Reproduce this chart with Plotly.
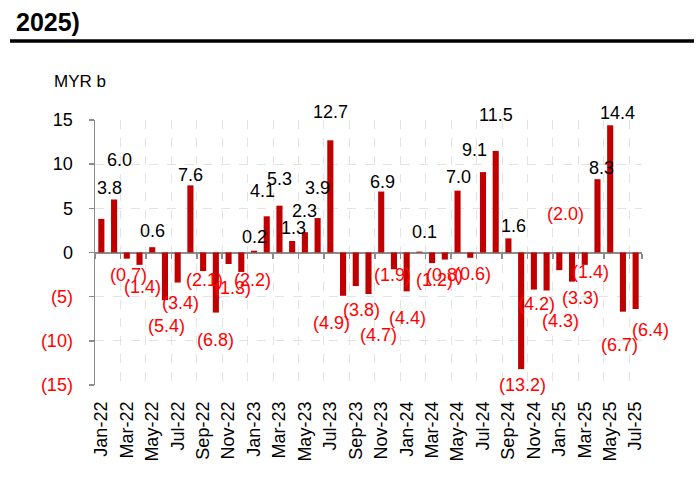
import plotly.graph_objects as go

# ---- data ----
months = [
    "Jan-22", "Feb-22", "Mar-22", "Apr-22", "May-22", "Jun-22", "Jul-22", "Aug-22",
    "Sep-22", "Oct-22", "Nov-22", "Dec-22",
    "Jan-23", "Feb-23", "Mar-23", "Apr-23", "May-23", "Jun-23", "Jul-23", "Aug-23",
    "Sep-23", "Oct-23", "Nov-23", "Dec-23",
    "Jan-24", "Feb-24", "Mar-24", "Apr-24", "May-24", "Jun-24", "Jul-24", "Aug-24",
    "Sep-24", "Oct-24", "Nov-24", "Dec-24",
    "Jan-25", "Feb-25", "Mar-25", "Apr-25", "May-25", "Jun-25", "Jul-25",
]
values = [
    3.8, 6.0, -0.7, -1.4, 0.6, -5.4, -3.4, 7.6, -2.1, -6.8, -1.3, -2.2,
    0.2, 4.1, 5.3, 1.3, 2.3, 3.9, 12.7, -4.9, -3.8, -4.7, 6.9, -1.9,
    -4.4, 0.1, -1.2, -0.8, 7.0, -0.6, 9.1, 11.5, 1.6, -13.2, -4.2, -4.3,
    -2.0, -3.3, -1.4, 8.3, 14.4, -6.7, -6.4,
]
y_ticks = [-15, -10, -5, 0, 5, 10, 15]
x_tick_labels = months[::2]

# ---- label placement styles (pixel offsets of each value label from its bar end) ----
label_dy = [
    31, 40, -16, -22, 16, -26, -20, 10, -9, -27, -24, -8,
    14, 25, 27, 13, 21, 30, 28, -27, -24, -41, 10, -6,
    -27, 20, -17, -15, 14, -16, 22, 36, 12, -16, -14, -31,
    56, -16, -7, 11, 12, -33, -21,
]
label_dx = [
    8, 5, 2, 3, 0, 2, 3, 0, 1, 0, 4, 11,
    0, -4, 0, 1, 0, 0, 0, -12, 6, 10, 1, -1,
    1, 5, 2, 0, 1, 2, -8, 0, 5, 1, 3, 14,
    6, 8, 6, 4, 7, -3, 15,
]

W, H = 698, 486
ML, MR, MT, MB = 95, 56, 120, 101
PW, PH = W - ML - MR, H - MT - MB


def px(xp):
    return (xp - ML) / PW


def py(yp):
    return (H - MB - yp) / PH


BAR = "#C00000"
RED = "#FF0000"
GRAY = "#8c8c8c"
GRID = "#e3e3e3"
FONT = "Liberation Sans, Arial, sans-serif"


def fmt(v):
    return f"{v:.1f}" if v >= 0 else f"({abs(v):.1f})"


def fmt_tick(v):
    if v < 0:
        return f'<span style="color:{RED}">({abs(v)})</span>'
    return str(v)


fig = go.Figure()
fig.add_trace(go.Bar(
    x=months, y=values, marker=dict(color=BAR, line=dict(width=0)),
    hoverinfo="skip", showlegend=False,
))
# invisible helper trace that puts the tick marks on the zero line
fig.add_trace(go.Scatter(
    x=months, y=values, mode="none", xaxis="x2", yaxis="y",
    hoverinfo="skip", showlegend=False,
))

for m, v, dx, dy in zip(months, values, label_dx, label_dy):
    fig.add_annotation(
        x=m, y=v, text=fmt(v), showarrow=False,
        xanchor="center", yanchor="middle", xshift=dx, yshift=dy,
        font=dict(family=FONT, size=18, color="black" if v >= 0 else RED),
    )

# header
fig.add_annotation(
    xref="paper", yref="paper", x=px(14), y=py(22.5), text="<b>2025)</b>",
    showarrow=False, xanchor="left", yanchor="middle",
    font=dict(family=FONT, size=25, color="black"),
)
fig.add_shape(
    type="line", xref="paper", yref="paper",
    x0=px(10), x1=px(694), y0=py(41), y1=py(41),
    line=dict(color="black", width=3.5),
)
fig.add_annotation(
    xref="paper", yref="paper", x=px(52), y=py(81.5), text="MYR b",
    showarrow=False, xanchor="left", yanchor="middle",
    font=dict(family=FONT, size=17, color="black"),
)

fig.update_layout(
    width=W, height=H,
    margin=dict(l=ML, r=MR, t=MT, b=MB, pad=0),
    paper_bgcolor="white", plot_bgcolor="white",
    bargap=0.52,
    font=dict(family=FONT, size=18, color="black"),
    xaxis=dict(
        type="category", categoryorder="array", categoryarray=months,
        range=[-0.5, len(months) - 0.5],
        tickmode="array", tickvals=x_tick_labels, ticktext=x_tick_labels,
        tickson="boundaries", tickangle=-90, ticks="", ticklabelstandoff=12,
        showgrid=True, gridcolor=GRID, griddash="dash", gridwidth=1,
        showline=False, zeroline=False,
        tickfont=dict(family=FONT, size=18, color="black"),
    ),
    xaxis2=dict(
        type="category", categoryorder="array", categoryarray=months,
        range=[-0.5, len(months) - 0.5],
        overlaying="x", anchor="free", position=0.5, side="bottom",
        tickmode="array", tickvals=x_tick_labels, tickson="boundaries",
        ticks="outside", ticklen=5, tickwidth=1.5, tickcolor=GRAY,
        showticklabels=False, showgrid=False, showline=False, zeroline=False,
    ),
    yaxis=dict(
        range=[-15, 15], tickmode="array", tickvals=y_ticks,
        ticktext=[fmt_tick(v) for v in y_ticks],
        showline=True, linecolor=GRAY, linewidth=1.5,
        ticks="outside", ticklen=5, tickwidth=1.5, tickcolor=GRAY,
        ticklabelstandoff=12,
        showgrid=True, gridcolor=GRID, griddash="dash", gridwidth=1,
        zeroline=True, zerolinecolor=GRAY, zerolinewidth=2,
        layer="above traces",
        tickfont=dict(family=FONT, size=18, color="black"),
    ),
)

fig.write_html(
    "out.html",
    config={"displayModeBar": False, "staticPlot": True},
    post_script="document.body.style.margin='0';document.body.style.overflow='hidden';",
)
